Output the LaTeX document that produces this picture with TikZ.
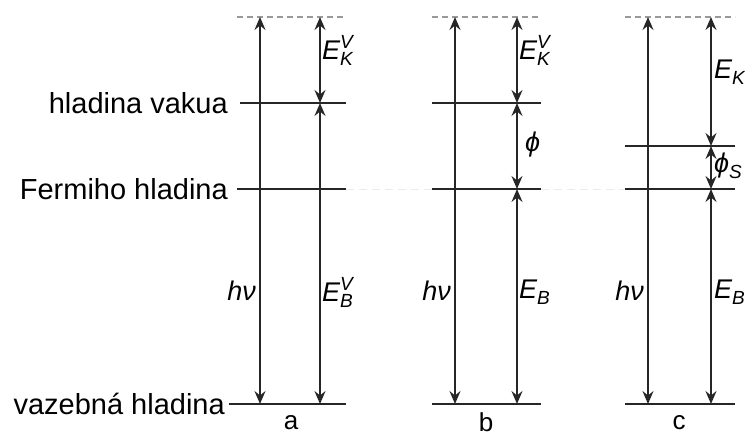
\documentclass[tikz,border=0pt]{standalone}
\usepackage{fontspec}
\setmainfont{Liberation Sans}
\usetikzlibrary{arrows.meta}
\newcommand\ssub[1]{\raisebox{-6pt}{\fontsize{19}{19}\selectfont\itshape #1}}
\newcommand\ssup[1]{\raisebox{11pt}{\fontsize{19}{19}\selectfont\itshape #1}}
\newcommand\supsub[2]{\rlap{\ssup{#1}}\ssub{#2}}
\begin{document}
\begin{tikzpicture}[x=1pt,y=-1pt,
  lvl/.style={line width=1.8pt,black!85},
  top/.style={line width=1.2pt,black!40,dash pattern=on 6pt off 4pt},
  faint/.style={line width=1pt,black!8,dash pattern=on 8pt off 5pt},
  arr/.style={line width=1.7pt,black!85,{Stealth[length=13pt,width=11pt,inset=4.5pt]}-{Stealth[length=13pt,width=11pt,inset=4.5pt]}},
  lbl/.style={font=\fontsize{29}{32}\selectfont,anchor=east,inner sep=0pt},
  sym/.style={font=\fontsize{27}{29}\selectfont\itshape,inner sep=0pt},
  pan/.style={font=\fontsize{26}{28}\selectfont,inner sep=0pt}]
\useasboundingbox (0,0) rectangle (745,439);
% level coordinates
\foreach \p/\l/\r in {a/237/346,b/432/541,c/625/735}{
  \coordinate (\p-tl) at (\l,17); \coordinate (\p-tr) at (\r,17);
  \coordinate (\p-fl) at (\l,189); \coordinate (\p-fr) at (\r,189);
  \coordinate (\p-bl) at (\l,404); \coordinate (\p-br) at (\r,404);
}
\coordinate (a-vl) at (240,103); \coordinate (a-vr) at (346,103);
\coordinate (b-vl) at (432,103); \coordinate (b-vr) at (541,103);
\coordinate (c-sl) at (625,146); \coordinate (c-sr) at (735,146);
% faint guides
\draw[faint] (a-fr) -- (b-fl);
\draw[faint] (b-fr) -- (c-fl);
% top dashed lines
\draw[top] (a-tl) -- (a-tr);
\draw[top] (b-tl) -- (b-tr);
\draw[top] (c-tl) -- (c-tr);
% level lines
\draw[lvl] (a-vl) -- (a-vr);
\draw[lvl] (b-vl) -- (b-vr);
\draw[lvl] (c-sl) -- (c-sr);
\draw[lvl] (a-fl) -- (a-fr);
\draw[lvl] (b-fl) -- (b-fr);
\draw[lvl] (c-fl) -- (c-fr);
\draw[lvl] (229,404) -- (a-br);
\draw[lvl] (b-bl) -- (b-br);
\draw[lvl] (c-bl) -- (c-br);
% arrow endpoints
\foreach \p/\x/\y in {a/260/320,b/455/517,c/648/711}{
  \coordinate (\p-h1) at (\x,17); \coordinate (\p-h2) at (\x,404);
  \coordinate (\p-e0) at (\y,17); \coordinate (\p-eF) at (\y,189); \coordinate (\p-eB) at (\y,404);
}
\coordinate (a-eV) at (320,103);
\coordinate (b-eV) at (517,103);
\coordinate (c-eS) at (711,146);
% arrows
\draw[arr] (a-h2) -- (a-h1);
\draw[arr] (b-h2) -- (b-h1);
\draw[arr] (c-h2) -- (c-h1);
\draw[arr] (a-eV) -- (a-e0);
\draw[arr] (a-eB) -- (a-eV);
\draw[arr] (b-eV) -- (b-e0);
\draw[arr] (b-eF) -- (b-eV);
\draw[arr] (b-eB) -- (b-eF);
\draw[arr] (c-eS) -- (c-e0);
\draw[arr] (c-eF) -- (c-eS);
\draw[arr] (c-eB) -- (c-eF);
% left labels
\node[lbl] (lvac) at (228,103) {hladina vakua};
\node[lbl] (lfer) at (228,189) {Fermiho hladina};
\node[lbl] (lbnd) at (225,404) {vazebná hladina};
% symbol labels
\node[sym,anchor=west] (ekva) at (322,50) {E\supsub{V}{K}};
\node[sym,anchor=west] (ekvb) at (519,50) {E\supsub{V}{K}};
\node[sym,anchor=west] (ekc) at (714,72) {E\ssub{K}};
\node[sym,anchor=west] (phib) at (525,145) {ϕ};
\node[sym,anchor=west] (phic) at (714,166) {ϕ\ssub{S}};
\node[sym,anchor=east] (hva) at (256,291) {hν};
\node[sym,anchor=east] (hvb) at (451,291) {hν};
\node[sym,anchor=east] (hvc) at (644,291) {hν};
\node[sym,anchor=west] (ebva) at (322,292) {E\supsub{V}{B}};
\node[sym,anchor=west] (ebb) at (519,292) {E\ssub{B}};
\node[sym,anchor=west] (ebc) at (714,292) {E\ssub{B}};
% panel labels
\node[pan] (pa) at (291,423) {a};
\node[pan] (pb) at (486,422) {b};
\node[pan] (pc) at (679,423) {c};
\end{tikzpicture}
\end{document}
